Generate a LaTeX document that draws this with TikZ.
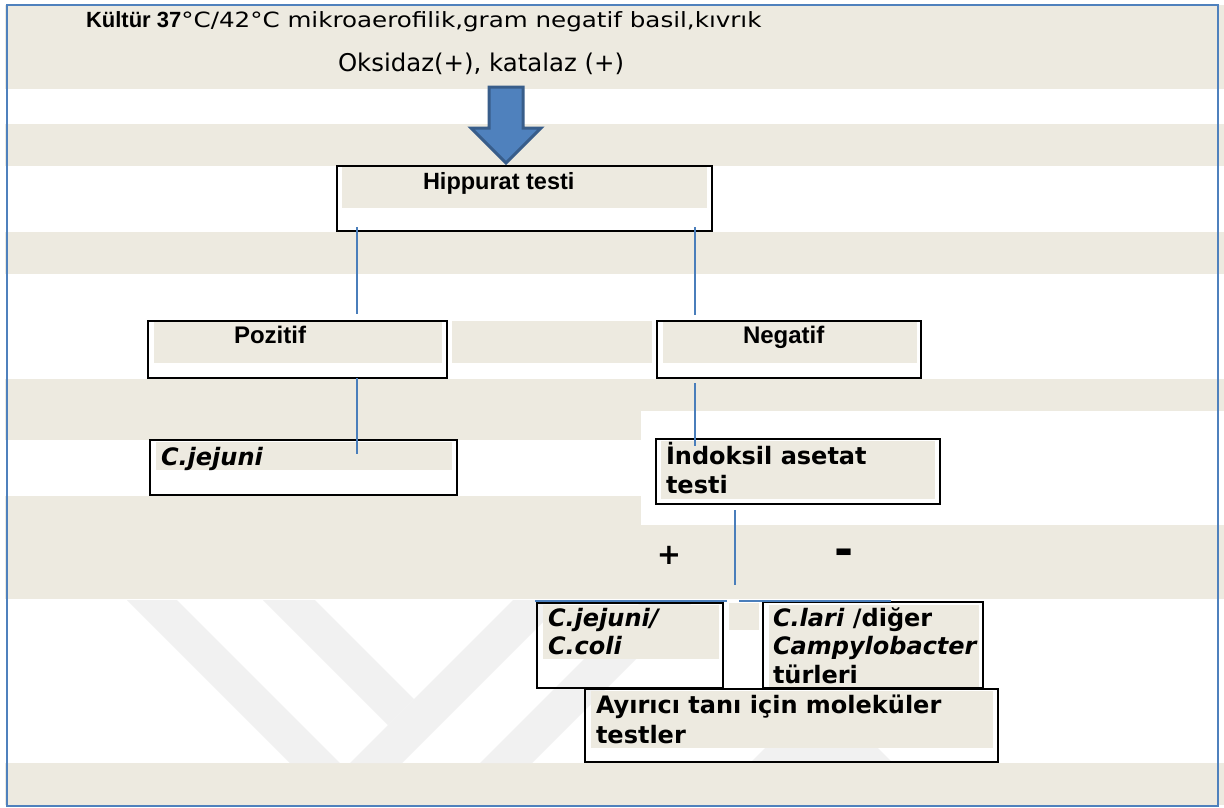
\documentclass[tikz,border=0pt]{standalone}
\usepackage{fontspec}
\setmainfont{DejaVu Sans}[ItalicFont={DejaVu Sans Oblique},BoldFont={DejaVu Sans Bold},BoldItalicFont={DejaVu Sans Bold Oblique}]
\newfontfamily\arialf{Liberation Sans}
\newfontfamily\verdw{DejaVu Sans}[FakeStretch=1.17]
\usetikzlibrary{calc}
\definecolor{beige}{RGB}{237,234,224}
\definecolor{frameblue}{RGB}{79,129,189}
\definecolor{connblue}{RGB}{74,126,187}
\definecolor{arrowfill}{RGB}{79,129,189}
\definecolor{arrowedge}{RGB}{56,93,138}
\definecolor{wmgray}{RGB}{241,241,241}
\tikzset{
  band/.style={fill=beige, draw=none},
  boxnode/.style={draw=black, line width=2.6pt, rectangle, inner sep=0pt, outer sep=0pt, anchor=north west},
  txt/.style={inner sep=0pt, outer sep=0pt, anchor=base west, text=black},
  vbold/.style={font=\fontsize{24}{28}\selectfont\bfseries},
  vboldit/.style={font=\fontsize{24}{28}\selectfont\bfseries\itshape},
  abold/.style={font=\fontsize{24}{28}\selectfont\arialf\bfseries},
  conn/.style={draw=connblue, line width=1.8pt},
  wmstripe/.style={fill=wmgray, draw=none},
}
\begin{document}
\begin{tikzpicture}[x=1pt,y=-1pt]
\useasboundingbox (0,0) rectangle (1224,807);
\fill[white] (0,0) rectangle (1224,807);
% background bands
\fill[band] (5,5) rectangle (1224,89);
\fill[band] (5,124) rectangle (1224,166);
\fill[band] (5,232) rectangle (1224,274);
\fill[band] (5,379) rectangle (641,440);
\fill[band] (641,379) rectangle (1224,411);
\fill[band] (5,496) rectangle (641,599);
\fill[band] (641,525) rectangle (1224,599);
\fill[band] (5,763) rectangle (1224,805);
% watermark
\begin{scope}
  \clip (8,600) rectangle (1218,763);
  \fill[wmstripe] (127,600) -- (177,600) -- (340,763) -- (290,763) -- cycle;
  \fill[wmstripe] (263,600) -- (315,600) -- (414,699) -- (388,725) -- cycle;
  \fill[wmstripe] (513,600) -- (565,600) -- (402,763) -- (350,763) -- cycle;
  \fill[wmstripe] (643,600) -- (695,600) -- (532,763) -- (480,763) -- cycle;
  \fill[wmstripe] (750,763) -- (821,692) -- (893,763) -- cycle;
\end{scope}
% extra beige patches
\fill[band] (452,321) rectangle (652,363);
\fill[band] (729,603) rectangle (759,630);
% inner beige of boxes
\fill[band] (342,167) rectangle (707,208);
\fill[band] (154,322) rectangle (442,363);
\fill[band] (663,322) rectangle (917,363);
\fill[band] (156,442) rectangle (452,470);
\fill[band] (661,441) rectangle (935,499);
\fill[band] (543,605) rectangle (719,659);
\fill[band] (769,605) rectangle (979,688);
\fill[band] (591,691) rectangle (993,748);
% boxes
\node[boxnode, minimum width=375pt, minimum height=65pt] (hip) at (337,166) {};
\node[boxnode, minimum width=299pt, minimum height=57pt] (poz) at (148,321) {};
\node[boxnode, minimum width=264pt, minimum height=57pt] (neg) at (657,321) {};
\node[boxnode, minimum width=307pt, minimum height=55pt] (jej) at (150,440) {};
\node[boxnode, minimum width=284pt, minimum height=65pt] (ind) at (656,439) {};
\node[boxnode, minimum width=186pt, minimum height=85pt] (jc) at (537,603) {};
\node[boxnode, minimum width=220pt, minimum height=86pt] (lari) at (763,602) {};
\node[boxnode, minimum width=413pt, minimum height=73pt] (ayr) at (585,689) {};
% texts
\node[txt] (l1) at (86,27) {{\fontsize{22}{26}\selectfont\arialf\bfseries Kültür 37}{\fontsize{21}{26}\selectfont\verdw °C/42°C mikroaerofilik,gram negatif basil,kıvrık}};
\node[txt, font=\fontsize{24.4}{28}\selectfont] (l2) at (338,71) {Oksidaz(+), katalaz (+)};
\node[txt, font=\fontsize{23.5}{28}\selectfont\arialf\bfseries] (thip) at (423,189) {Hippurat testi};
\node[txt, abold] (tpoz) at (234,343) {Pozitif};
\node[txt, abold] (tneg) at (743,343) {Negatif};
\node[txt, vboldit] (tjej) at (161,465) {C.jejuni};
\node[txt, vbold] (tind1) at (666,464) {İndoksil asetat};
\node[txt, vbold] (tind2) at (666,493) {testi};
\node[inner sep=0pt, anchor=base, font=\fontsize{29}{32}\selectfont\bfseries] (plus) at (669,564) {+};
\node[inner sep=0pt, anchor=base, font=\fontsize{46}{50}\selectfont\bfseries] (minus) at (844,565) {-};
\node[txt, vboldit] (tjc1) at (548,626) {C.jejuni/};
\node[txt, vboldit] (tjc2) at (548,654) {C.coli};
\node[txt, vbold] (tla1) at (773,626) {\textit{C.lari} /diğer};
\node[txt, vboldit] (tla2) at (773,654) {Campylobacter};
\node[txt, vbold] (tla3) at (773,683) {türleri};
\node[txt, vbold] (tay1) at (596,713) {Ayırıcı tanı için moleküler};
\node[txt, vbold] (tay2) at (596,743) {testler};
% connectors
\coordinate (hA) at ($(hip.south west)+(20,-4)$);
\coordinate (pA) at ($(poz.north west)+(209,-7)$);
\coordinate (hB) at ($(hip.south west)+(358,-4)$);
\coordinate (nB) at ($(neg.north west)+(38,-6)$);
\coordinate (pC) at ($(poz.south west)+(209,0)$);
\coordinate (jC) at ($(jej.north west)+(207,14)$);
\coordinate (nD) at ($(neg.south west)+(38,5)$);
\coordinate (iD) at ($(ind.north west)+(39,7)$);
\coordinate (iE) at ($(ind.south west)+(79,6)$);
\coordinate (sE) at ($(ind.south west)+(79,81)$);
\coordinate (jcL) at ($(jc.north west)+(-2,-2)$);
\coordinate (jcR) at ($(jc.north east)+(4,-2)$);
\coordinate (laL) at ($(lari.north west)+(-24,-1)$);
\coordinate (laR) at ($(lari.north west)+(128,-1)$);
\draw[conn] (hA) -- (pA);
\draw[conn] (hB) -- (nB);
\draw[conn] (pC) -- (jC);
\draw[conn] (nD) -- (iD);
\draw[conn] (iE) -- (sE);
\draw[conn] (jcL) -- (jcR);
\draw[conn] (laL) -- (laR);
% big arrow
\draw[fill=arrowfill, draw=arrowedge, line width=3pt, line join=miter]
  (489,87) -- (523,87) -- (523,128) -- (541,128) -- (506,163) -- (471,128) -- (489,128) -- cycle;
% outer frame
\draw[frameblue, line width=1.6pt] (7,5) rectangle (1218,806);
\end{tikzpicture}
\end{document}
